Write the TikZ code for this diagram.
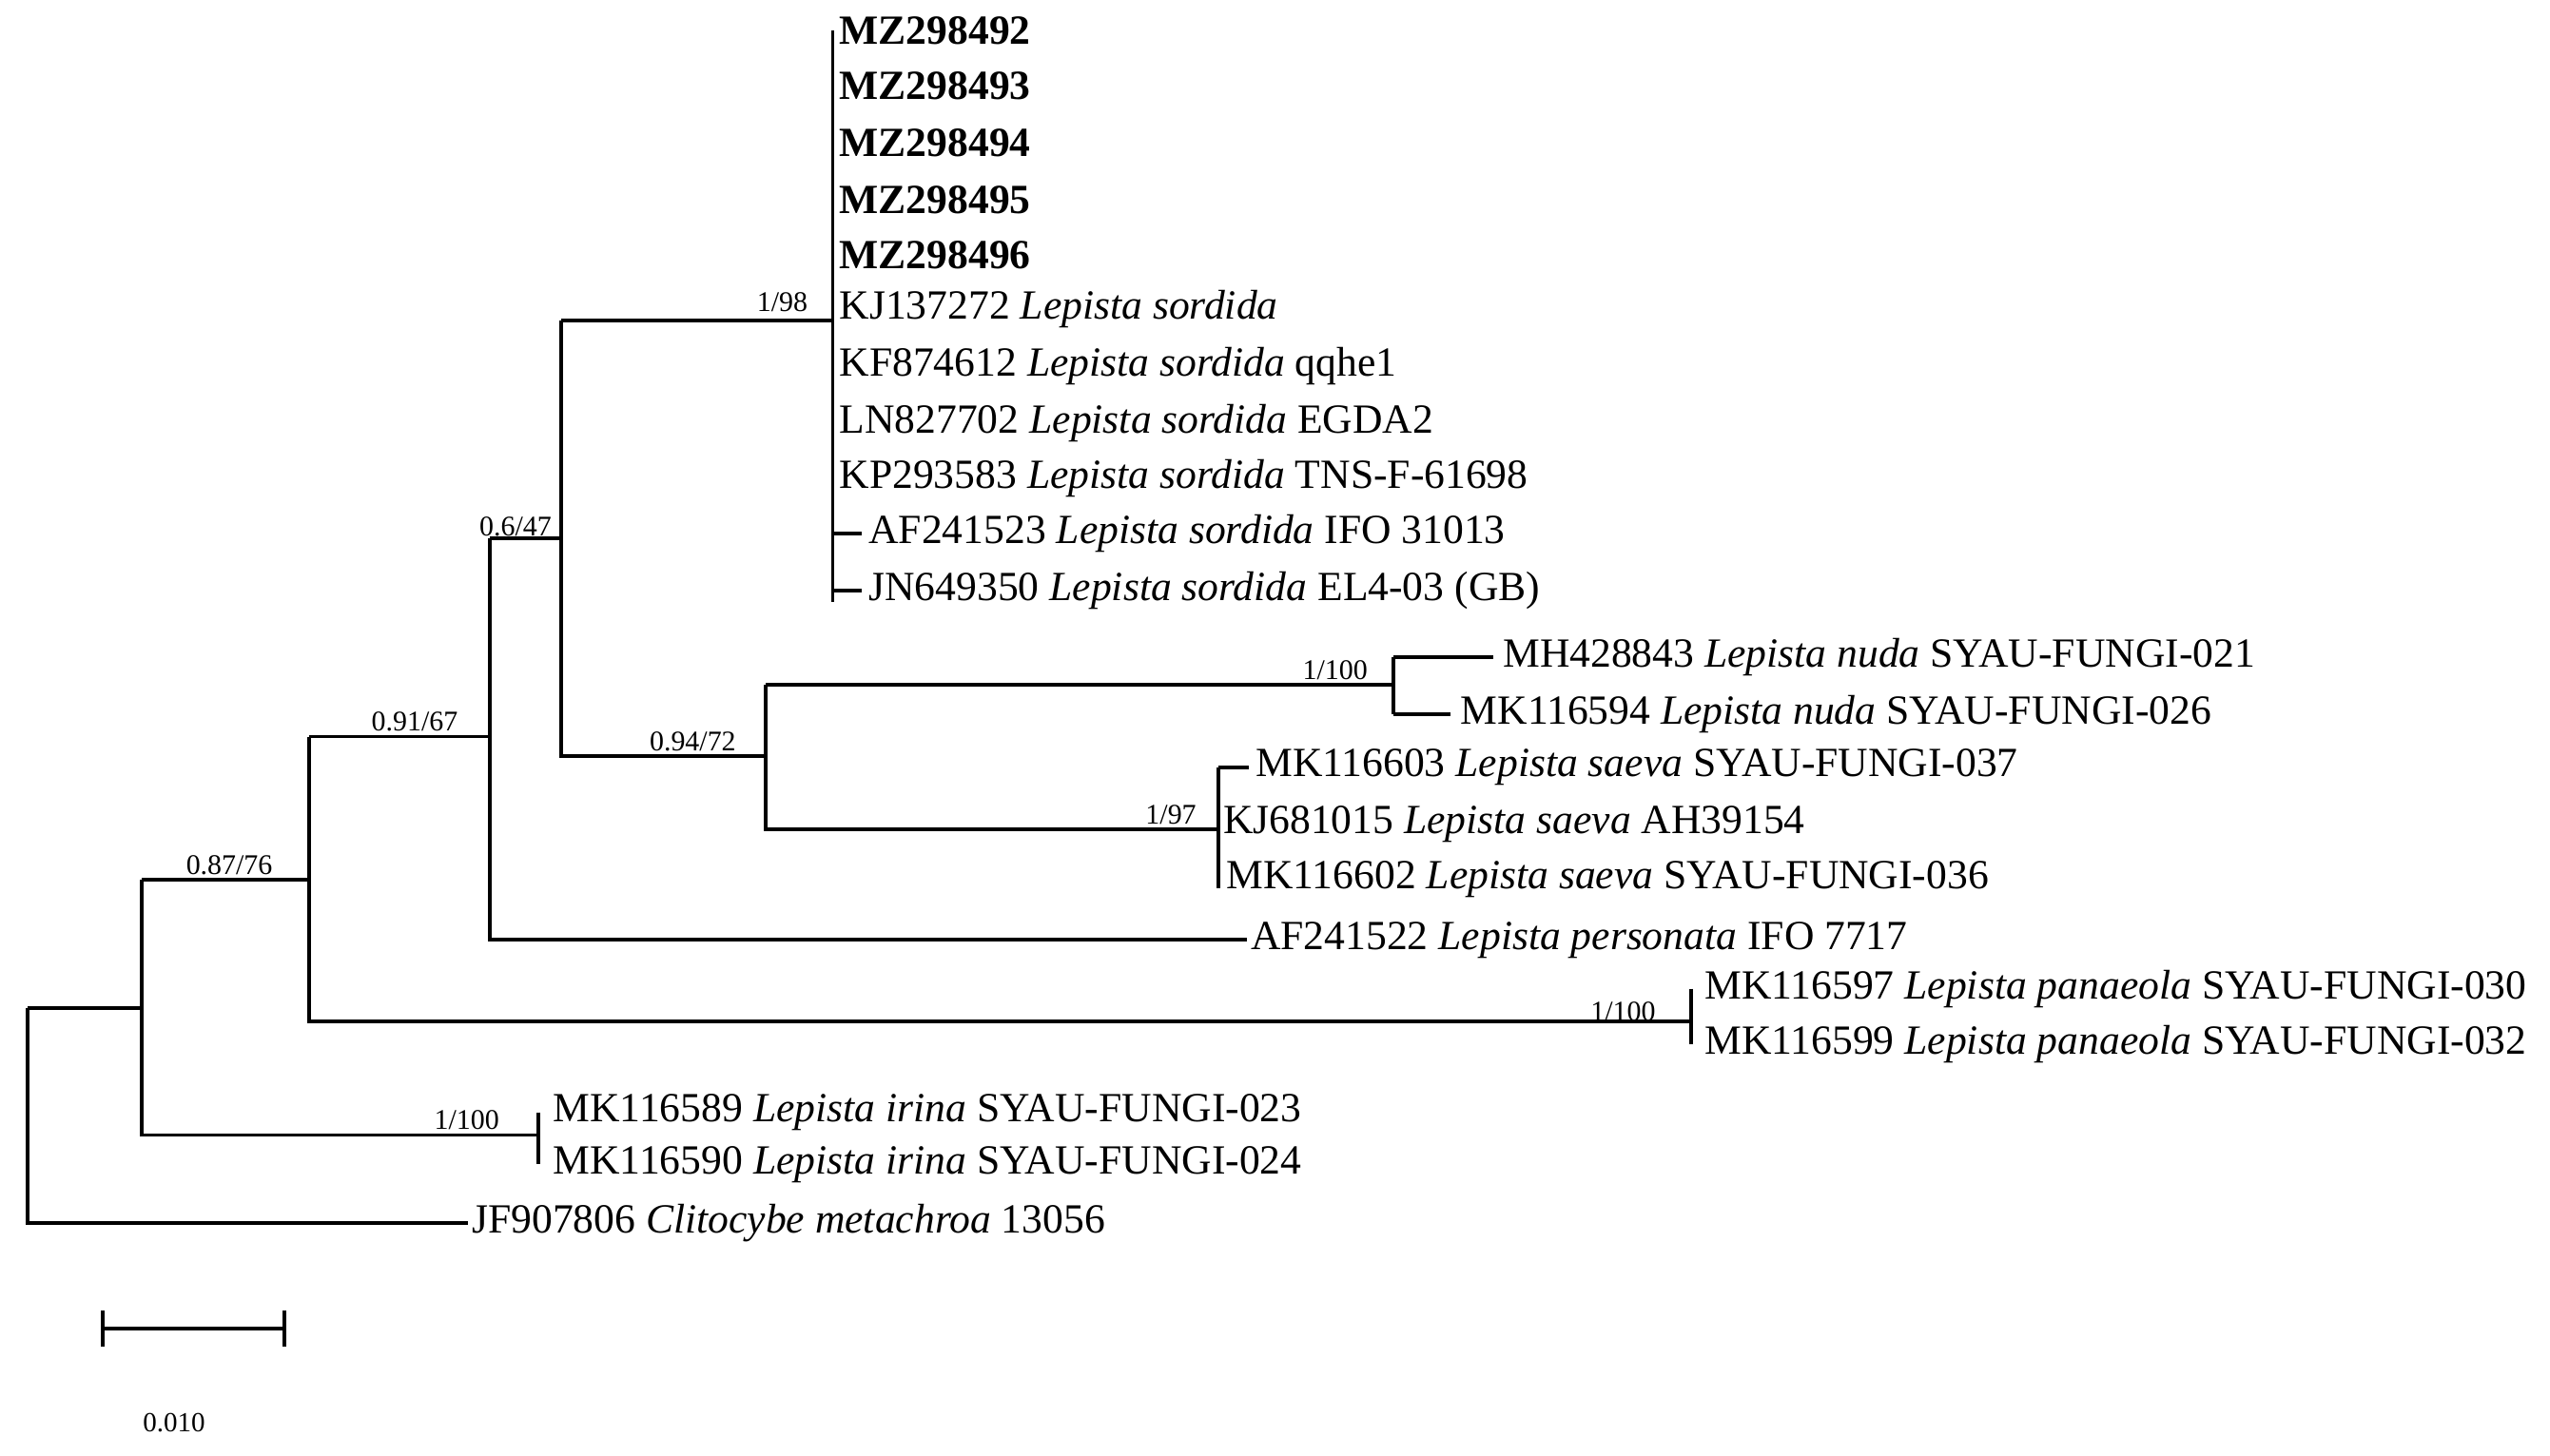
\documentclass[tikz,border=0pt]{standalone}
\usepackage{fontspec}
\setmainfont{Liberation Serif}
\begin{document}
\begin{tikzpicture}[x=1pt,y=-1pt,
  br/.style={line width=2.2pt},
  tip/.style={anchor=west,inner sep=0pt,font=\fontsize{25.5}{27}\selectfont},
  sup/.style={anchor=south,inner sep=1pt,font=\fontsize{17.5}{18}\selectfont}]
\useasboundingbox (0,0) rectangle (1568,895);
% root
\draw[br] (17,620) -- (17,752) -- (288,752);
\draw[br] (17,620) -- (87,620);
\draw[br] (87,541) -- (87,698) -- (331,698);
\draw[br] (331,684) -- (331,716);
\draw[br] (87,541) -- (190,541);
\draw[br] (190,453) -- (190,628) -- (1040,628);
\draw[br] (1040,608) -- (1040,642);
\draw[br] (190,453) -- (301,453);
\draw[br] (301,331) -- (301,578) -- (767,578);
\draw[br] (301,331) -- (345,331);
\draw[br] (345,197) -- (345,465) -- (471,465);
\draw[br] (345,197) -- (512,197);
\draw[br] (512,19) -- (512,370);
\draw[br] (512,328) -- (530,328);
\draw[br] (512,363) -- (530,363);
\draw[br] (471,421) -- (471,510) -- (749,510);
\draw[br] (471,421) -- (857,421);
\draw[br] (857,404) -- (857,439);
\draw[br] (857,404) -- (918,404);
\draw[br] (857,439) -- (892,439);
\draw[br] (749,472) -- (749,546);
\draw[br] (749,472) -- (768,472);
% support
\node[sup] at (481,193) {1/98};
\node[sup] at (317,331) {0.6/47};
\node[sup] at (255,451) {0.91/67};
\node[sup] at (141,539) {0.87/76};
\node[sup] at (426,463) {0.94/72};
\node[sup] at (821,419) {1/100};
\node[sup] at (720,508) {1/97};
\node[sup] at (998,629) {1/100};
\node[sup] at (287,696) {1/100};
% tips
\node[tip] (t1) at (516,19) {\textbf{MZ298492}};
\node[tip] (t2) at (516,53) {\textbf{MZ298493}};
\node[tip] (t3) at (516,88) {\textbf{MZ298494}};
\node[tip] (t4) at (516,123) {\textbf{MZ298495}};
\node[tip] (t5) at (516,157) {\textbf{MZ298496}};
\node[tip] (t6) at (516,190) {KJ137272 \textit{Lepista sordida}};
\node[tip] (t7) at (516,225) {KF874612 \textit{Lepista sordida} qqhe1};
\node[tip] (t8) at (516,260) {LN827702 \textit{Lepista sordida} EGDA2};
\node[tip] (t9) at (516,294) {KP293583 \textit{Lepista sordida} TNS-F-61698};
\node[tip] (t10) at (534,328) {AF241523 \textit{Lepista sordida} IFO 31013};
\node[tip] (t11) at (534,363) {JN649350 \textit{Lepista sordida} EL4-03 (GB)};
\node[tip] (t12) at (924,404) {MH428843 \textit{Lepista nuda} SYAU-FUNGI-021};
\node[tip] (t13) at (898,439) {MK116594 \textit{Lepista nuda} SYAU-FUNGI-026};
\node[tip] (t14) at (772,472) {MK116603 \textit{Lepista saeva} SYAU-FUNGI-037};
\node[tip] (t15) at (752,507) {KJ681015 \textit{Lepista saeva} AH39154};
\node[tip] (t16) at (754,541) {MK116602 \textit{Lepista saeva} SYAU-FUNGI-036};
\node[tip] (t17) at (769,578) {AF241522 \textit{Lepista personata} IFO 7717};
\node[tip] (t18) at (1048,608) {MK116597 \textit{Lepista panaeola} SYAU-FUNGI-030};
\node[tip] (t19) at (1048,642) {MK116599 \textit{Lepista panaeola} SYAU-FUNGI-032};
\node[tip] (t20) at (340,684) {MK116589 \textit{Lepista irina} SYAU-FUNGI-023};
\node[tip] (t21) at (340,716) {MK116590 \textit{Lepista irina} SYAU-FUNGI-024};
\node[tip] (t22) at (290,752) {JF907806 \textit{Clitocybe metachroa} 13056};
% scale
\draw[br] (63,817) -- (175,817);
\draw[br] (63,806) -- (63,828);
\draw[br] (175,806) -- (175,828);
\node[inner sep=0pt,font=\fontsize{17}{18}\selectfont] (sc) at (107,875) {0.010};
\end{tikzpicture}
\end{document}
